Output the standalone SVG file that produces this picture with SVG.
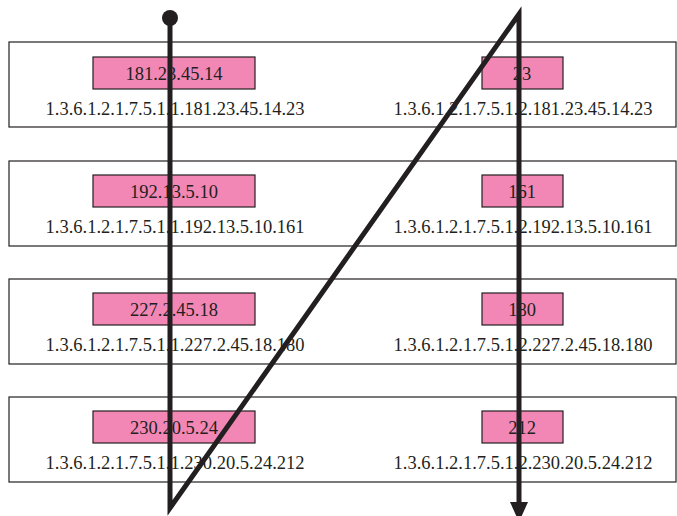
<svg xmlns="http://www.w3.org/2000/svg" width="677" height="516" viewBox="0 0 677 516">
<style>
.row{fill:#fff;stroke:#231f20;stroke-width:1.2}
.pk{fill:#f287b5;stroke:#231f20;stroke-width:1.2}
text{font-family:"Liberation Serif","Times New Roman",serif;font-size:18.5px;fill:#231f20;text-anchor:middle}
.con{fill:none;stroke:#231f20;stroke-width:5;stroke-linejoin:miter}
</style>
<g id="row1">
<rect class="row" x="9" y="42" width="667" height="85"/>
<rect class="pk" x="93" y="57" width="162" height="32"/>
<text x="174" y="80">181.23.45.14</text>
<rect class="pk" x="482" y="57" width="81" height="32"/>
<text x="522" y="80">23</text>
<text x="175" y="115">1.3.6.1.2.1.7.5.1.1.181.23.45.14.23</text>
<text x="523" y="115">1.3.6.1.2.1.7.5.1.2.181.23.45.14.23</text>
</g>
<g id="row2">
<rect class="row" x="9" y="161" width="667" height="85"/>
<rect class="pk" x="93" y="175" width="162" height="32"/>
<text x="174" y="198">192.13.5.10</text>
<rect class="pk" x="482" y="175" width="81" height="32"/>
<text x="522" y="198">161</text>
<text x="175" y="233">1.3.6.1.2.1.7.5.1.1.192.13.5.10.161</text>
<text x="523" y="233">1.3.6.1.2.1.7.5.1.2.192.13.5.10.161</text>
</g>
<g id="row3">
<rect class="row" x="9" y="279" width="667" height="85"/>
<rect class="pk" x="93" y="293" width="162" height="32"/>
<text x="174" y="316">227.2.45.18</text>
<rect class="pk" x="482" y="293" width="81" height="32"/>
<text x="522" y="316">180</text>
<text x="175" y="351">1.3.6.1.2.1.7.5.1.1.227.2.45.18.180</text>
<text x="523" y="351">1.3.6.1.2.1.7.5.1.2.227.2.45.18.180</text>
</g>
<g id="row4">
<rect class="row" x="9" y="397" width="667" height="85"/>
<rect class="pk" x="93" y="411" width="162" height="32"/>
<text x="174" y="434">230.20.5.24</text>
<rect class="pk" x="482" y="411" width="81" height="32"/>
<text x="522" y="434">212</text>
<text x="175" y="469">1.3.6.1.2.1.7.5.1.1.230.20.5.24.212</text>
<text x="523" y="469">1.3.6.1.2.1.7.5.1.2.230.20.5.24.212</text>
</g>
<g id="connectors">
<circle cx="170" cy="18" r="8" fill="#231f20"/>
<polyline class="con" points="170,18 170,508 519,14 519,504"/>
<polygon points="510,502 528,502 519,522" fill="#231f20"/>
</g>
</svg>
